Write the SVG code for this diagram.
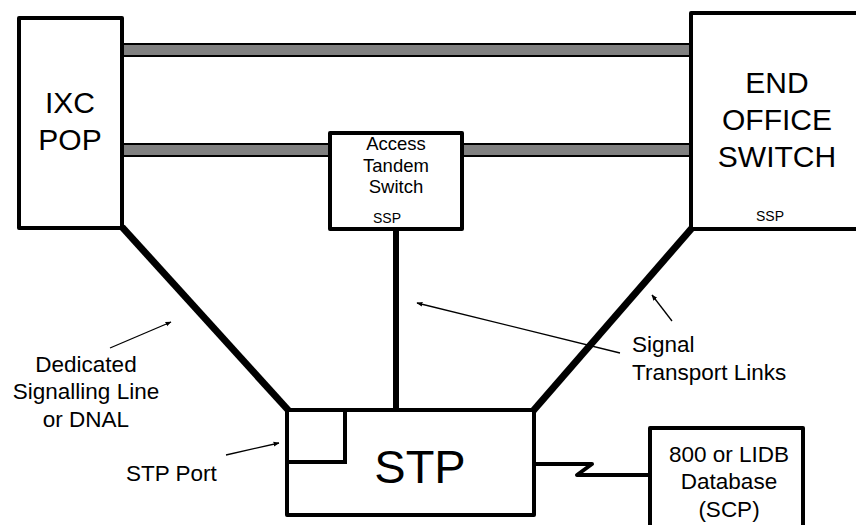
<svg xmlns="http://www.w3.org/2000/svg" width="856" height="525" viewBox="0 0 856 525">
<style>
text{font-family:"Liberation Sans",Arial,sans-serif;fill:#000}
.box{fill:#fff;stroke:#000;stroke-width:4;stroke-linejoin:round}
.bar{fill:#808080;stroke:#000;stroke-width:2}
.link{stroke:#000;stroke-width:7;fill:none;stroke-linecap:butt}
.thin{stroke:#000;stroke-width:1.3;fill:none;marker-end:url(#ah)}
.lbl{font-size:22.5px}
</style>
<defs>
<marker id="ah" viewBox="0 0 10 10" refX="9" refY="5" markerWidth="6" markerHeight="6" orient="auto" markerUnits="userSpaceOnUse">
<path d="M0,1 L10,5 L0,9 z" fill="#000"/>
</marker>
</defs>
<rect width="856" height="525" fill="#fff"/>
<g id="trunks">
<rect class="bar" x="122" y="44" width="569" height="12"/>
<rect class="bar" x="122" y="144" width="208" height="12"/>
<rect class="bar" x="462" y="144" width="229" height="12"/>
</g>
<g id="connectors">
<line class="link" x1="122" y1="227" x2="289" y2="411"/>
<line class="link" x1="396" y1="229" x2="396" y2="410" style="stroke-width:6"/>
<line class="link" x1="692" y1="228" x2="533" y2="411"/>
<polyline points="534,464 592,464 577,475 650,475" fill="none" stroke="#000" stroke-width="4" stroke-linejoin="round"/>
</g>
<g id="ixc-pop">
<rect class="box" x="19" y="18" width="103" height="210"/>
<text x="70" y="113" font-size="30" text-anchor="middle">IXC</text>
<text x="70" y="150" font-size="30" text-anchor="middle">POP</text>
</g>
<g id="access-tandem">
<rect class="box" x="330" y="133" width="132" height="96"/>
<text x="396" y="150" font-size="18.5" text-anchor="middle">Access</text>
<text x="396" y="172" font-size="18.5" text-anchor="middle">Tandem</text>
<text x="396" y="193" font-size="18.5" text-anchor="middle">Switch</text>
<text x="387" y="223" font-size="14" text-anchor="middle">SSP</text>
</g>
<g id="end-office">
<rect class="box" x="691" y="13" width="220" height="216"/>
<text x="777" y="93" font-size="30" text-anchor="middle">END</text>
<text x="777" y="130" font-size="30" text-anchor="middle">OFFICE</text>
<text x="777" y="167" font-size="30" text-anchor="middle">SWITCH</text>
<text x="770" y="221" font-size="14" text-anchor="middle">SSP</text>
</g>
<g id="stp">
<rect class="box" x="287" y="410" width="247" height="105"/>
<polyline points="287,462 345,462 345,410" fill="none" stroke="#000" stroke-width="4"/>
<text x="420" y="483" font-size="47" text-anchor="middle">STP</text>
</g>
<g id="scp">
<rect class="box" x="650" y="428" width="153" height="120"/>
<text x="729" y="462" font-size="22.5" text-anchor="middle">800 or LIDB</text>
<text x="729" y="489" font-size="22.5" text-anchor="middle">Database</text>
<text x="729" y="517" font-size="22.5" text-anchor="middle">(SCP)</text>
</g>
<g id="annotations">
<line class="thin" x1="110" y1="348" x2="171" y2="322"/>
<line class="thin" x1="226" y1="455" x2="279" y2="443"/>
<line class="thin" x1="620" y1="353" x2="417" y2="303"/>
<line class="thin" x1="672" y1="321" x2="652" y2="295"/>
<text class="lbl" x="86" y="372" text-anchor="middle">Dedicated</text>
<text class="lbl" x="86" y="399" text-anchor="middle">Signalling Line</text>
<text class="lbl" x="86" y="427" text-anchor="middle">or DNAL</text>
<text class="lbl" x="126" y="481">STP Port</text>
<text class="lbl" x="632" y="352">Signal</text>
<text class="lbl" x="632" y="380">Transport Links</text>
</g>
</svg>
